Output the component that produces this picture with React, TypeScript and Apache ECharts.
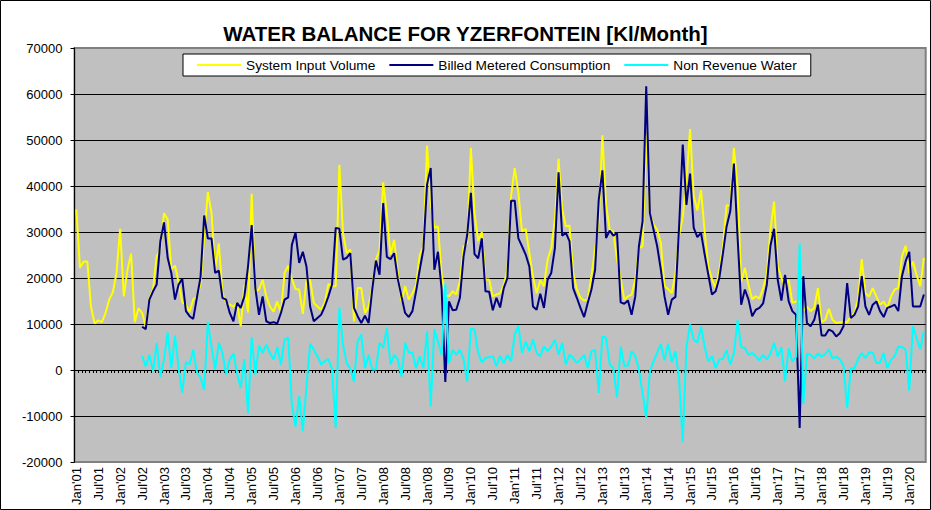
import React, { useEffect, useRef } from "react";
import * as echarts from "echarts";

const monthNames = ["Jan", "Feb", "Mar", "Apr", "May", "Jun", "Jul", "Aug", "Sep", "Oct", "Nov", "Dec"];
const firstYear = 2001;
const monthCount = 233; // Jan'01 .. May'20

const categories: string[] = [];
for (let i = 0; i < monthCount; i++) {
  const y = (firstYear + Math.floor(i / 12)) % 100;
  categories.push(monthNames[i % 12] + "'" + (y < 10 ? "0" + y : String(y)));
}

// tick labels as printed on the original (every 6th month)
const tickLabels = [
  "Jan'01", "Jul'01", "Jan'02", "Jul'02", "Jan'03", "Jul'03", "Jan'04", "Jul'04",
  "Jan'05", "Jul'05", "Jan'06", "Jul'06", "Jan'07", "Jul'07", "Jan'08", "Jul'08",
  "Jan'08", "Jul'09", "Jan'10", "Jul'10", "Jan'11", "Jul'11", "Jan'12", "Jul'12",
  "Jan'13", "Jul'13", "Jan'14", "Jul'14", "Jan'15", "Jul'15", "Jan'16", "Jul'16",
  "Jan'17", "Jul'17", "Jan'18", "Jul'18", "Jan'19", "Jul'19", "Jan'20",
];

const systemInputVolume = [
  34900, 22200, 23600, 23600, 13800, 10100, 10800, 10400, 12400, 15300, 16900, 21100,
  30700, 16000, 21800, 25300, 10400, 13400, 12400, 9500, 15500, 17600, 24700, 26400,
  34100, 32700, 21800, 22700, 19000, 14700, 14200, 12600, 15400, 15800, 18700, 28800,
  38700, 34100, 21800, 27500, 16700, 14600, 14200, 13800, 14600, 9500, 18500, 12500,
  38300, 17100, 17500, 19600, 16000, 13800, 12700, 14900, 12400, 21100, 22700, 19800,
  17600, 17500, 12200, 19600, 19600, 14600, 13800, 13100, 14600, 18700, 18200, 18200,
  44600, 29800, 25400, 26200, 10600, 17800, 17800, 12400, 13800, 18000, 24000, 26000,
  40800, 33900, 25100, 28300, 21100, 14900, 18200, 15300, 16700, 18500, 25000, 26900,
  48800, 36500, 30900, 31200, 20700, 16200, 16000, 17100, 16400, 19300, 26900, 27500,
  48300, 34100, 28000, 30000, 19600, 19700, 16000, 16400, 16700, 18500, 21800, 37800,
  43900, 38500, 30100, 30700, 25500, 20300, 16700, 19500, 18200, 24000, 26500, 32700,
  45900, 34900, 31200, 31400, 21100, 17600, 15700, 15100, 15300, 20500, 26200, 32500,
  51000, 35900, 30500, 30100, 24000, 19900, 15300, 16000, 16400, 19600, 26500, 26900,
  51200, 33800, 31600, 30500, 27600, 18200, 17600, 16700, 21100, 29200, 33300, 41000,
  52400, 37800, 34700, 39100, 30000, 22500, 19700, 17800, 21700, 27000, 35800, 35700,
  48300, 39800, 19200, 22200, 18400, 15400, 16000, 15500, 17800, 20800, 30500, 36600,
  22500, 20000, 18200, 19600, 14600, 14900, 14900, 13000, 13800, 12800, 13500, 17800,
  10400, 10900, 13300, 10900, 10200, 10400, 10400, 10400, 11700, 12400, 15500, 24100,
  16700, 16000, 17800, 16000, 14200, 14900, 13500, 16000, 17500, 17800, 24700, 27000,
  21100, 23600, 20700, 18200, 24400,
];

const billedMeteredConsumption = [
  null, null, null, null, null, null, null, null, null, null, null, null,
  null, null, null, null, null, null, 9400, 8900, 15300, 17100, 18600, 28000,
  32100, 24400, 21100, 15300, 18600, 19800, 12800, 11700, 11100, 15700, 20200, 33600,
  28600, 28600, 21100, 21600, 15700, 15300, 12400, 10600, 14600, 13500, 16000, 22500,
  31500, 17800, 12000, 16000, 10600, 10200, 10400, 10100, 12400, 15300, 15800, 27200,
  29900, 23300, 25700, 22500, 13800, 10600, 11300, 12000, 13800, 16000, 18600, 30900,
  30700, 24000, 24400, 25400, 13500, 11700, 10200, 11800, 10200, 17500, 23800, 20700,
  36300, 24600, 24100, 25400, 19800, 16000, 12400, 11500, 12800, 17100, 21800, 26200,
  40300, 43900, 21800, 25700, 17500, -2600, 14900, 13000, 13100, 15700, 24700, 29400,
  38500, 25200, 24300, 28600, 17100, 17000, 13000, 15700, 13600, 17800, 20000, 36800,
  36800, 28600, 26900, 25100, 22500, 13800, 13100, 16600, 13500, 19600, 21100, 26500,
  43000, 29200, 29800, 28000, 17800, 15700, 13500, 11500, 14600, 17500, 21800, 37000,
  43400, 28700, 30300, 29200, 29800, 14700, 14400, 15100, 12000, 16000, 26900, 32300,
  61700, 34100, 30500, 26900, 21800, 16000, 12000, 15300, 15900, 31200, 49000, 35900,
  42700, 30900, 28900, 29800, 25100, 20700, 16400, 17100, 20000, 25400, 31200, 34500,
  44900, 29000, 14200, 17500, 15300, 11700, 13100, 13500, 14500, 18500, 27000, 30700,
  19600, 15100, 20700, 14900, 12800, 12000, -12600, 20400, 10200, 9500, 10900, 14200,
  7500, 7500, 8800, 8400, 7300, 8000, 9500, 18900, 11300, 12000, 13800, 20400,
  13800, 12000, 14200, 14900, 12800, 11500, 13500, 13800, 14200, 12800, 20400, 23600,
  25700, 13800, 13800, 13800, 16400,
];

const nonRevenueWater = [
  null, null, null, null, null, null, null, null, null, null, null, null,
  null, null, null, null, null, null, 3100, 800, 3300, -300, 5900, -1500,
  2300, 8200, 400, 7500, 400, -4900, 1700, 1200, 4400, -500, -1700, -4300,
  10400, 5100, 200, 5900, 3700, -1000, 2300, 3600, -700, -3900, 2400, -9400,
  7100, -1000, 5300, 3700, 5500, 3700, 2300, 5000, 1200, 6600, 7100, -7500,
  -12300, -5700, -13300, -3600, 5700, 4400, 3000, 1200, 1900, 2400, 100, -12600,
  13500, 5500, 1500, 300, -2500, 6200, 7700, 400, 3300, 100, 100, 5900,
  4800, 9100, 1200, 3300, 2300, -1400, 5900, 3800, 3800, 400, 3000, 400,
  8400, -7900, 8900, 6200, 3300, 18700, 1500, 4400, 3300, 4400, 2300, -2500,
  9000, 8800, 3700, 1700, 2600, 2800, 3000, 800, 3100, 1500, 3300, 1900,
  7700, 9600, 3700, 6200, 4100, 6700, 3700, 3000, 5100, 4100, 5100, 6600,
  3300, 5900, 1200, 3300, 2600, 1500, 2300, 3300, 400, 4100, 4400, -5000,
  7300, 7000, 1200, 400, -6000, 5100, 900, 900, 4100, 3000, 100, -5000,
  -10400, -300, 1900, 3800, 5700, 2100, 5700, 1700, 4100, -2000, -15700, 5000,
  9900, 6600, 6000, 9400, 5000, 1800, 3000, 400, 2300, 2400, 4300, 1200,
  3600, 10800, 5000, 4800, 3300, 3700, 3000, 2100, 3300, 2300, 3500, 5900,
  2900, 4900, -2500, 4700, 1800, 2900, 27500, -7400, 3600, 3300, 2500, 3600,
  2900, 3500, 4500, 2500, 2900, 2300, 900, -8300, 400, 400, 2400, 3700,
  2600, 3800, 3800, 1500, 1600, 3700, 400, 2200, 3000, 5100, 5000, 4400,
  -4500, 9500, 7000, 4500, 8400,
];

const FONT = "'Liberation Sans', Arial, sans-serif";

export default function App() {
  const ref = useRef<HTMLDivElement>(null);

  useEffect(() => {
    document.body.style.margin = "0";
    if (!ref.current) return;
    const chart = echarts.init(ref.current, undefined, { renderer: "svg" });
    chart.setOption({
      animation: false,
      backgroundColor: "#ffffff",
      textStyle: { fontFamily: FONT },
      title: {
        text: "WATER BALANCE FOR YZERFONTEIN [Kl/Month]",
        left: "center",
        top: 22,
        padding: 0,
        textStyle: { fontFamily: FONT, fontSize: 20.5, fontWeight: "bold", color: "#000", lineHeight: 22 },
      },
      legend: {
        left: 183,
        top: 54,
        padding: [4, 14, 4, 14],
        itemGap: 14,
        itemWidth: 44,
        itemHeight: 2,
        icon: "rect",
        backgroundColor: "#ffffff",
        borderColor: "#000000",
        borderWidth: 1,
        textStyle: { fontFamily: FONT, fontSize: 13.7, color: "#000", lineHeight: 14 },
        data: ["System Input Volume", "Billed Metered Consumption", "Non Revenue Water"],
      },
      graphic: [
        {
          type: "rect",
          silent: true,
          z: 100,
          shape: { x: 0.5, y: 0.5, width: 930, height: 509 },
          style: { fill: "none", stroke: "#000000", lineWidth: 1 },
        },
      ],
      grid: {
        left: 74.5,
        right: 5.3,
        top: 48,
        bottom: 48,
        show: true,
        backgroundColor: "#c0c0c0",
        borderColor: "#808080",
        borderWidth: 2,
      },
      xAxis: [
        {
          type: "category",
          data: categories,
          position: "bottom",
          boundaryGap: true,
          axisLine: { show: false, onZero: false },
          axisTick: { show: false },
          splitLine: { show: false },
          axisLabel: {
            interval: 5,
            rotate: 90,
            margin: 5,
            fontFamily: FONT,
            fontSize: 13,
            color: "#000",
            formatter: (_v: string, idx: number) => tickLabels[Math.round(idx / 6)] ?? "",
          },
        },
        {
          type: "category",
          data: categories,
          position: "top",
          boundaryGap: true,
          axisLine: { show: true, onZero: true, lineStyle: { color: "#000", width: 1 } },
          axisTick: { show: true, inside: true, interval: 0, length: 3, lineStyle: { color: "#000", width: 1 } },
          axisLabel: { show: false },
          splitLine: { show: false },
        },
      ],
      yAxis: {
        type: "value",
        min: -20000,
        max: 70000,
        interval: 10000,
        axisLine: { show: true, lineStyle: { color: "#000", width: 1 } },
        axisTick: { show: true, length: 4, lineStyle: { color: "#000" } },
        axisLabel: {
          fontFamily: FONT,
          fontSize: 13,
          color: "#000",
          margin: 12,
          formatter: (v: number) => String(v),
        },
        splitLine: { show: true, showMinLine: false, showMaxLine: false, lineStyle: { color: "#000", width: 1 } },
      },
      series: [
        {
          name: "System Input Volume",
          type: "line",
          xAxisIndex: 0,
          data: systemInputVolume,
          symbol: "none",
          showSymbol: false,
          color: "#ffff00",
          lineStyle: { color: "#ffff00", width: 2 },
        },
        {
          name: "Billed Metered Consumption",
          type: "line",
          xAxisIndex: 0,
          data: billedMeteredConsumption,
          symbol: "none",
          showSymbol: false,
          color: "#000080",
          lineStyle: { color: "#000080", width: 2 },
        },
        {
          name: "Non Revenue Water",
          type: "line",
          xAxisIndex: 0,
          data: nonRevenueWater,
          symbol: "none",
          showSymbol: false,
          color: "#00ffff",
          lineStyle: { color: "#00ffff", width: 2 },
        },
      ],
    });
    return () => chart.dispose();
  }, []);

  return <div ref={ref} style={{ width: 931, height: 510 }} />;
}
